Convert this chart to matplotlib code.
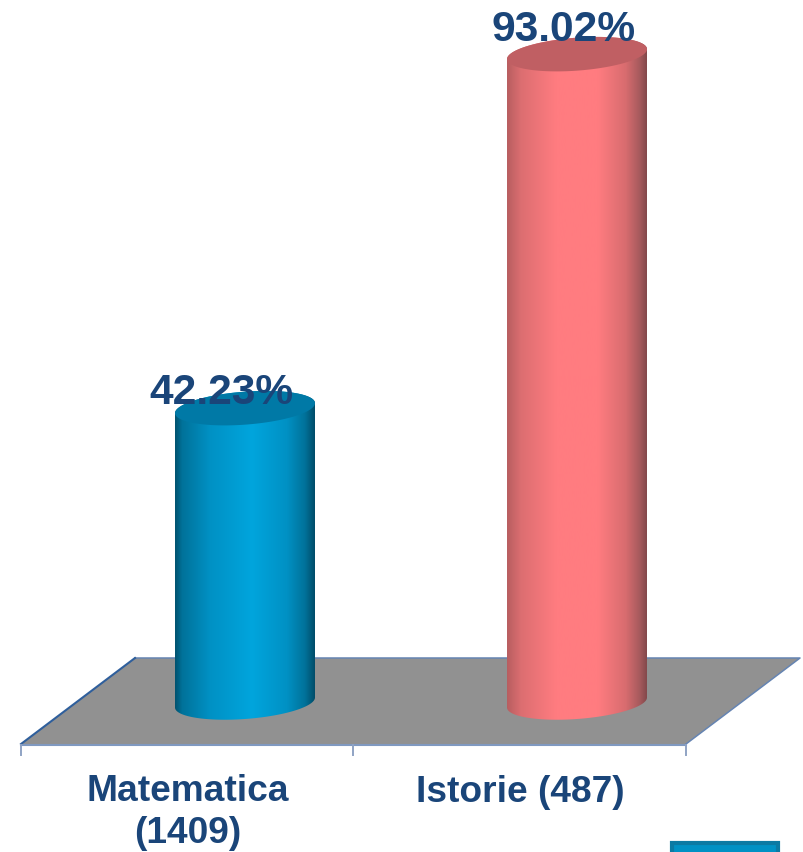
import matplotlib
matplotlib.use('Agg')
import matplotlib.pyplot as plt
import numpy as np
from matplotlib.colors import LinearSegmentedColormap
from matplotlib.patches import Polygon, Rectangle, Circle

plt.rcParams['font.family'] = ['Liberation Sans', 'DejaVu Sans']

categories = ['Matematica\n(1409)', 'Istorie (487)']
values = [42.23, 93.02]
value_labels = ['42.23%', '93.02%']

TEXT = '#1a4579'
EDGE = '#6584b2'

W, H = 804, 852
X0, XS = 245, 332      # pixel of category 0, pixels per category
Y0, YS = 702.5, 6.97   # pixel of value 0, pixels per percent


def px(x):
    return (x - X0) / XS


def py(y):
    return (Y0 - y) / YS


fig = plt.figure(figsize=(W / 100, H / 100), dpi=100)
ax = fig.add_axes([0, 0, 1, 1])
ax.set_xlim(px(0), px(W))
ax.set_ylim(py(H), py(0))
ax.axis('off')

# floor
floor = [(21, 744), (135, 658), (800, 658), (686, 744)]
ax.add_patch(Polygon([(px(a), py(b)) for a, b in floor], closed=True,
                     fc='#919191', ec='none', zorder=1))
ax.plot([px(135), px(800), px(686)], [py(658), py(658), py(744)], color=EDGE, lw=1.1, zorder=2)
ax.plot([px(21), px(135)], [py(744), py(658)], color='#2f5f9c', lw=1.5, zorder=2)
ax.plot([px(21), px(686)], [py(745), py(745)], color='#8099c0', lw=1.5, zorder=2)
for t in [21, 353, 686]:
    ax.plot([px(t), px(t)], [py(745), py(755)], color='#8fa3c4', lw=1.4, zorder=2)

blue = LinearSegmentedColormap.from_list('b', [(0, '#00526f'), (0.05, '#00729a'), (0.25, '#0091c4'),
                                               (0.55, '#00a5dd'), (0.8, '#0091c4'), (0.93, '#00729a'), (1, '#004d69')])
red = LinearSegmentedColormap.from_list('r', [(0, '#b85e60'), (0.1, '#dc6e71'), (0.35, '#ff7c80'),
                                              (0.65, '#ff7c80'), (0.85, '#d86c6f'), (0.95, '#a65a5d'), (1, '#84494c')])
cmaps = [blue, red]
tops = ['#0079a6', '#c05f63']

half_w = 70 / XS
t = np.linspace(0, 2 * np.pi, 200)


def ellipse(cx, cy):
    # slightly tilted ellipse, right side higher
    return cx + half_w * np.cos(t), cy + (16.5 * np.sin(t) + 5 * np.cos(t)) / YS


grad = np.linspace(0, 1, 256).reshape(1, -1)
label_x = [221.5, 564]
label_y = [393, 30]
for i, v in enumerate(values):
    ex, ey = ellipse(i, 0)
    tx, ty = ellipse(i, v)
    lower = t >= np.pi
    upper = t <= np.pi
    body_x = np.r_[ex[lower], tx[upper]]
    body_y = np.r_[ey[lower], ty[upper]]
    im = ax.imshow(grad, cmap=cmaps[i], aspect='auto', zorder=3,
                   extent=(i - half_w, i + half_w, -5, v + 5))
    im.set_clip_path(Polygon(np.c_[body_x, body_y], closed=True, transform=ax.transData))
    ax.add_patch(Polygon(np.c_[tx, ty], closed=True, fc=tops[i], ec='none', zorder=4))
    ax.text(px(label_x[i]), py(label_y[i]), value_labels[i], ha='center', va='center',
            fontsize=30.6, fontweight='bold', color=TEXT, zorder=5)

ax.set_xlim(px(0), px(W))
ax.set_ylim(py(H), py(0))

ax.text(px(188), py(812.5), categories[0], ha='center', va='center', fontsize=26.7,
        fontweight='bold', color=TEXT, linespacing=1.27)
ax.text(px(520), py(792), categories[1], ha='center', va='center', fontsize=26.7,
        fontweight='bold', color=TEXT)

# cut-off button in the corner
ax.add_patch(Rectangle((px(672), py(860)), 106 / XS, 17 / YS, fc='#0091c4', ec='#0b7aa3', lw=3, zorder=2))
ax.add_patch(Circle((px(702), py(853)), 0.01, fc='#0b6f96', ec='none', zorder=3))

fig.savefig('out.png', dpi=100)
plt.close()
